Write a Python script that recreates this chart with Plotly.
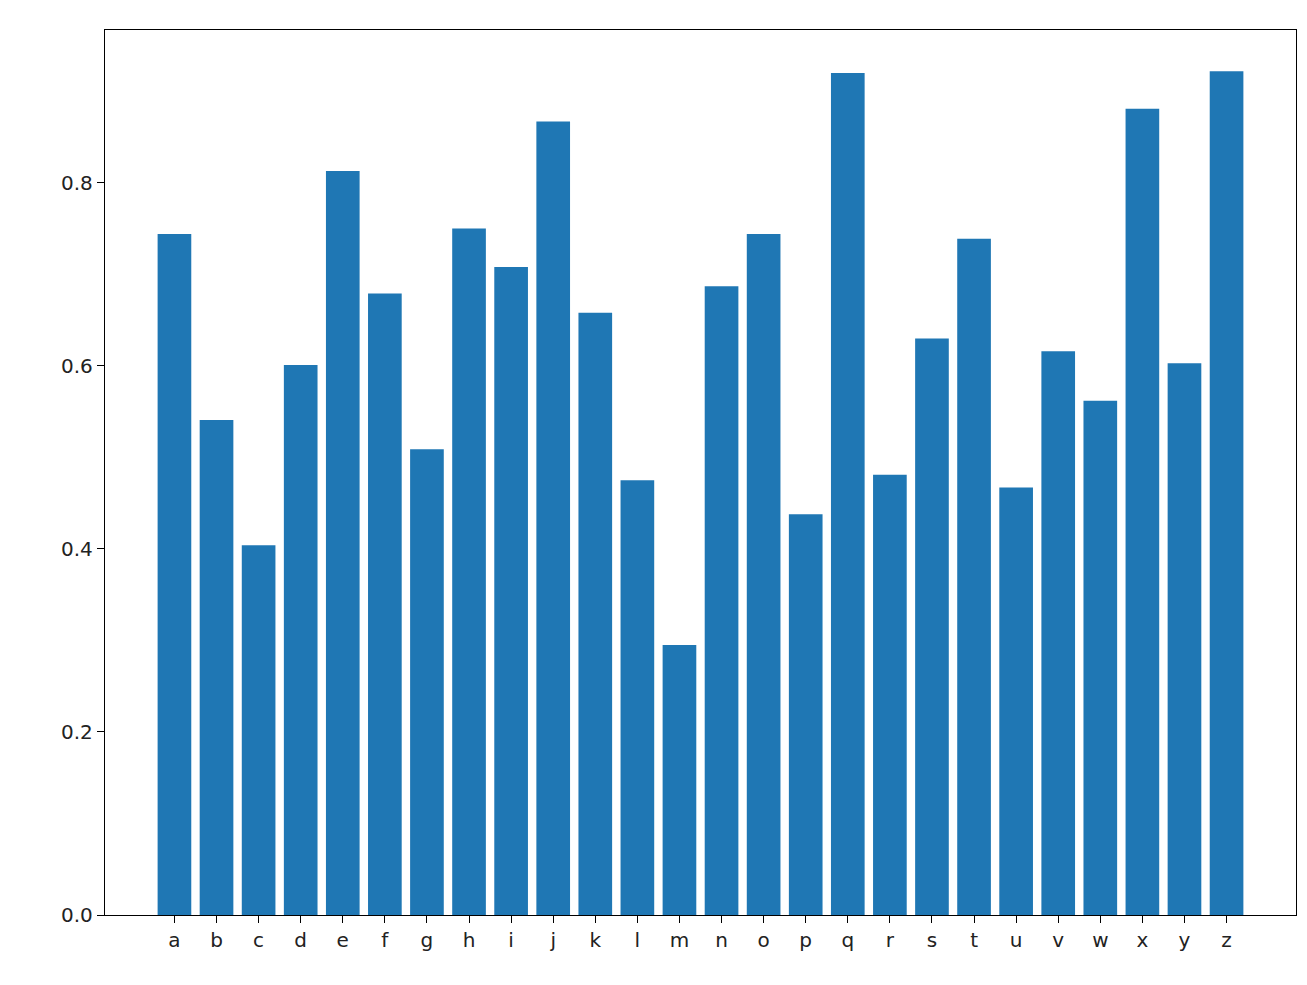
import plotly.graph_objects as go

labels = list("abcdefghijklmnopqrstuvwxyz")
values = [0.744, 0.541, 0.404, 0.601, 0.813, 0.679, 0.509, 0.750, 0.708, 0.867,
          0.658, 0.475, 0.295, 0.687, 0.744, 0.438, 0.920, 0.481, 0.630, 0.739,
          0.467, 0.616, 0.562, 0.881, 0.603, 0.922]
ytick_vals = [0.0, 0.2, 0.4, 0.6, 0.8]
ytick_text = ["0.0", "0.2", "0.4", "0.6", "0.8"]

xpos = list(range(len(labels)))
fig = go.Figure(go.Bar(x=xpos, y=values, width=0.8, marker=dict(color="#1f77b4", line=dict(width=0))))
fig.update_layout(
    width=1307, height=985, plot_bgcolor="white", paper_bgcolor="white",
    margin=dict(l=97, r=19, t=22, b=78), showlegend=False,
    font=dict(family="DejaVu Sans", size=20, color="#222"),
)
fig.update_xaxes(range=[-1.65, 26.65], tickvals=xpos, ticktext=labels, ticks="outside",
                 ticklen=7, tickcolor="black", showgrid=False, showline=True, linecolor="black",
                 mirror=True, linewidth=1.3, zeroline=False)
fig.update_yaxes(range=[0, 0.967], tickvals=ytick_vals, ticktext=ytick_text, ticks="outside",
                 ticklen=7, tickcolor="black", showgrid=False, showline=True, linecolor="black",
                 mirror=True, linewidth=1.3, zeroline=False)
fig.write_html("out.html")
